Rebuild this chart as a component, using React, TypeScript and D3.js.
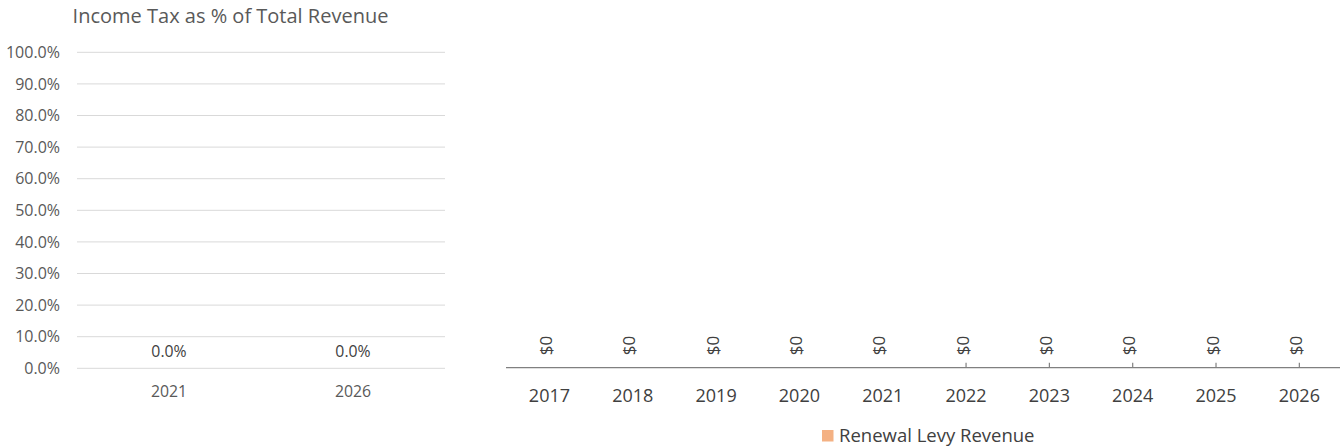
import React from 'react';
import * as d3 from 'd3';

// Left chart: income tax share
const shareYears = ['2021', '2026'];
const shareValues = [0, 0];
const shareTicks = [0, 0.1, 0.2, 0.3, 0.4, 0.5, 0.6, 0.7, 0.8, 0.9, 1.0];

// Right chart: renewal levy revenue
const levyYears = ['2017', '2018', '2019', '2020', '2021', '2022', '2023', '2024', '2025', '2026'];
const levyValues = [0, 0, 0, 0, 0, 0, 0, 0, 0, 0];
const levyTickedYears = ['2022', '2023', '2024', '2025', '2026'];
const levySeriesName = 'Renewal Levy Revenue';

const W = 1340;
const H = 447;
const FONT = '"Open Sans", "DejaVu Sans", sans-serif';

export default function App() {
  // left chart scales
  const lx = d3.scaleBand<string>().domain(shareYears).range([77, 445]);
  const ly = d3.scaleLinear().domain([0, 1]).range([368.3, 52.3]);
  const pct = d3.format('.1%');

  // right chart scales
  const rx = d3.scaleBand<string>().domain(levyYears).range([507.8, 1341]);
  const ryMax = d3.max(levyValues) || 1;
  const ry = d3.scaleLinear().domain([0, ryMax]).range([367.7, 60]);
  const money = (v: number) => `$${d3.format(',.0f')(v)}`;

  return (
    <div style={{ position: 'fixed', left: 0, top: 0 }}>
      <svg width={W} height={H} style={{ display: 'block', fontFamily: FONT }}>
        <rect width={W} height={H} fill="#ffffff" />

        {/* Left chart */}
        <text x={230.5} y={16} dy="0.35em" textAnchor="middle" fill="#595959" fontSize={20}>
          Income Tax as % of Total Revenue
        </text>
        {shareTicks.map(t => (
          <g key={t}>
            <line x1={77} x2={445} y1={ly(t)} y2={ly(t)} stroke="#d9d9d9" strokeWidth={1} />
            <text x={60} y={ly(t)} dy="0.35em" textAnchor="end" fill="#595959" fontSize={16}>
              {pct(t)}
            </text>
          </g>
        ))}
        {shareYears.map((yr, i) => {
          const cx = (lx(yr) ?? 0) + lx.bandwidth() / 2;
          return (
            <g key={yr}>
              <rect x={cx - 40} width={80} y={ly(shareValues[i])} height={ly(0) - ly(shareValues[i])} fill="#4472c4" />
              <text x={cx} y={ly(shareValues[i]) - 16.5} dy="0.35em" textAnchor="middle" fill="#404040" fontSize={15.8}>
                {pct(shareValues[i])}
              </text>
              <text x={cx} y={391.7} dy="0.35em" textAnchor="middle" fill="#595959" fontSize={15.8}>
                {yr}
              </text>
            </g>
          );
        })}

        {/* Right chart */}
        {levyYears.map((yr, i) => {
          const cx = (rx(yr) ?? 0) + rx.bandwidth() / 2;
          const top = ry(levyValues[i]);
          return (
            <g key={yr}>
              <rect x={cx - 30} width={60} y={top} height={ry(0) - top} fill="#f4b183" />
              <text
                transform={`translate(${cx + 2.5},${top - 12.5}) rotate(-90)`}
                fill="#404040"
                fontSize={17}
              >
                {money(levyValues[i])}
              </text>
              <text x={cx} y={396} dy="0.35em" textAnchor="middle" fill="#404040" fontSize={18}>
                {yr}
              </text>
            </g>
          );
        })}
        <line x1={506} x2={1340} y1={ry(0)} y2={ry(0)} stroke="#808080" strokeWidth={1.2} />
        {levyTickedYears.map(yr => {
          const cx = (rx(yr) ?? 0) + rx.bandwidth() / 2;
          return <line key={yr} x1={cx} x2={cx} y1={ry(0) - 5} y2={ry(0)} stroke="#808080" strokeWidth={1.2} />;
        })}

        {/* Legend */}
        <rect x={822} y={430} width={11.5} height={11.5} fill="#f4b183" />
        <text x={839} y={436} dy="0.35em" fill="#404040" fontSize={18.5}>
          {levySeriesName}
        </text>
      </svg>
    </div>
  );
}
